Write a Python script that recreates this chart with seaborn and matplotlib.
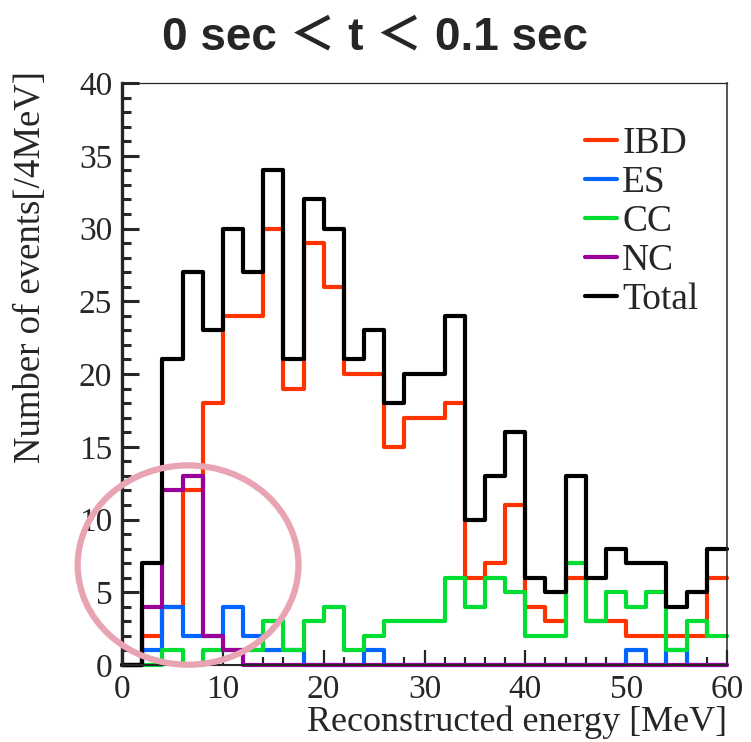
import numpy as np
import pandas as pd
import seaborn as sns
import matplotlib.pyplot as plt
from matplotlib.lines import Line2D
from matplotlib.patches import Ellipse
from matplotlib.ticker import MultipleLocator

# Bins: 2 MeV wide, 0-60 MeV
bin_centers = np.arange(1, 60, 2)

# Counts per bin
ibd = [0, 2, 4, 12, 18, 24, 24, 30, 19, 29, 26, 20, 20, 15, 17,
       17, 18, 6, 7, 11, 4, 3, 6, 3, 3, 2, 2, 2, 2, 6]
es = [0, 1, 4, 2, 2, 4, 2, 1, 1, 0, 0, 0, 1, 0, 0,
      0, 0, 0, 0, 0, 0, 0, 0, 0, 0, 1, 0, 1, 0, 0]
cc = [0, 0, 1, 0, 1, 1, 1, 3, 1, 3, 4, 1, 2, 3, 3,
      3, 6, 4, 6, 5, 2, 2, 7, 3, 5, 4, 5, 1, 3, 2]
nc = [0, 4, 12, 13, 2, 1, 0, 0, 0, 0, 0, 0, 0, 0, 0,
      0, 0, 0, 0, 0, 0, 0, 0, 0, 0, 0, 0, 0, 0, 0]
total = list(np.array(ibd) + np.array(es) + np.array(cc) + np.array(nc))

labels = ["IBD", "ES", "CC", "NC", "Total"]
colors = ["#ff3300", "#0066ff", "#00dd33", "#990099", "#000000"]
series = [ibd, es, cc, nc, total]

sns.set_style("ticks")
plt.rcParams["font.family"] = ["Liberation Serif", "DejaVu Serif"]

fig = plt.figure(figsize=(7.51, 7.42), dpi=100)
ax = fig.add_axes([0.1625, 0.1038, 0.8055, 0.7842])

for lab, col, vals in zip(labels, colors, series):
    df = pd.DataFrame({"energy": bin_centers, "count": vals})
    sns.histplot(
        data=df,
        x="energy",
        weights="count",
        binwidth=2,
        binrange=(0, 60),
        element="step",
        fill=False,
        color=col,
        linewidth=3,
        clip_on=False,
        ax=ax,
    )

# highlight circle
ax.add_patch(Ellipse((6.55, 6.87), width=21.9, height=13.7, fill=False,
                     edgecolor="#e8a4b2", linewidth=4.5, clip_on=False, zorder=10))

ax.set_xlim(0, 60)
ax.set_ylim(0, 40)
ax.xaxis.set_major_locator(MultipleLocator(10))
ax.xaxis.set_minor_locator(MultipleLocator(2))
ax.yaxis.set_major_locator(MultipleLocator(5))
ax.yaxis.set_minor_locator(MultipleLocator(1))

ax.tick_params(which="both", direction="in", top=False, right=False, labelsize=24)
ax.tick_params(axis="y", which="major", length=12, width=2.2, pad=7)
ax.tick_params(axis="y", which="minor", length=6.5, width=2.2)
ax.tick_params(axis="x", which="major", length=11, width=1.6, pad=7)
ax.tick_params(axis="x", which="minor", length=6, width=1.6)

ax.spines["left"].set_linewidth(2.4)
ax.spines["bottom"].set_linewidth(1.5)
ax.spines["top"].set_linewidth(0.9)
ax.spines["right"].set_linewidth(1.1)

ax.set_xlabel("Reconstructed energy [MeV]", fontsize=26, loc="right")
ax.xaxis.set_label_coords(1.0, -0.07)
ax.set_ylabel("Number of events[/4MeV]", fontsize=26.5, loc="top")
ax.yaxis.set_label_coords(-0.122, 1.02)

handles = [Line2D([], [], color=c, linewidth=3) for c in colors]
ax.legend(handles, labels, loc="upper left", bbox_to_anchor=(0.765, 0.925),
          frameon=False, fontsize=27, handlelength=0.85, handletextpad=0.15,
          labelspacing=0.12, borderpad=0, borderaxespad=0)

fig.text(0.5, 0.95, "0 sec ＜ t ＜ 0.1 sec", ha="center", va="center",
         fontsize=33, fontweight="bold",
         family=["Liberation Sans", "Noto Sans CJK JP"])

fig.savefig("out.png", dpi=100)
